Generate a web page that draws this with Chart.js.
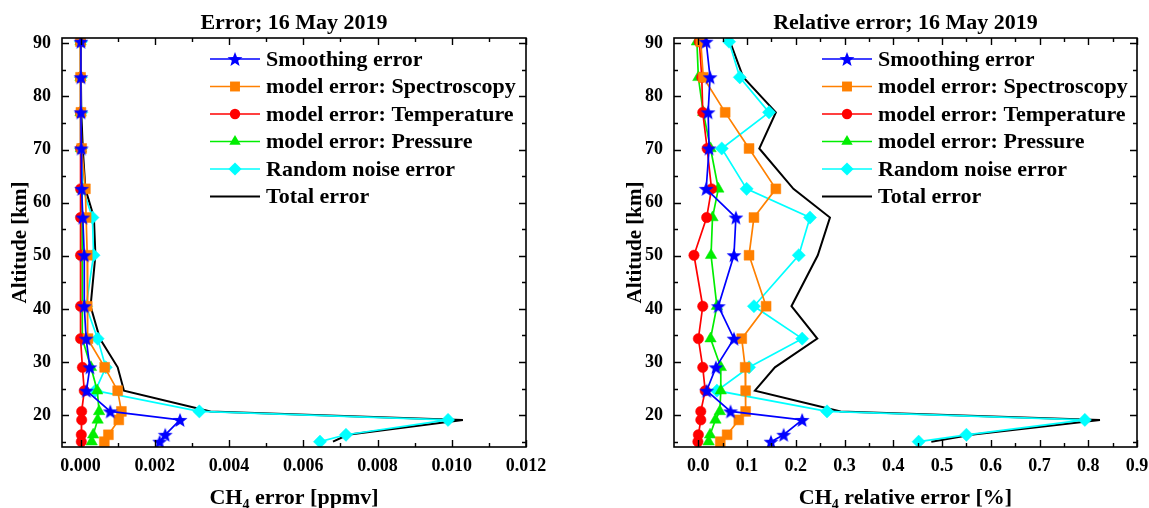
<!DOCTYPE html>
<html>
<head>
<meta charset="utf-8">
<title>CH4 error profiles</title>
<script src="https://cdn.jsdelivr.net/npm/chart.js@4.4.0/dist/chart.umd.min.js"></script>
<style>
  body { margin: 0; background: #fff; }
  #wrap { position: relative; width: 1149px; height: 508px; overflow: hidden; }
  canvas { position: absolute; top: 0; }
  #errChart { left: 0; }
  #relChart { left: 575px; }
</style>
</head>
<body>
<div id="wrap">
  <canvas id="errChart" width="575" height="508"></canvas>
  <canvas id="relChart" width="574" height="508"></canvas>
</div>
<script>
// retrieval levels, km
const altitude = [90.3, 83.6, 77.0, 70.2, 62.6, 57.2, 50.1, 40.5, 34.4, 29.0, 24.6, 20.7, 19.1, 16.3, 15.0];

// absolute errors, ppmv
const smoothingErr = [0.00001, 0.00001, 0.00001, 0.00002, 0.00003, 0.00006, 0.0001, 0.0001, 0.00015, 0.00025, 0.00016, 0.0008, 0.00268, 0.00228, 0.00213];
const spectroErr   = [0.0, 0.0, 0.00001, 0.00003, 0.00013, 0.00015, 0.00018, 0.00018, 0.0002, 0.00065, 0.001, 0.0011, 0.00103, 0.00075, 0.00064];
const tempErr      = [0.0, 0.0, 0.0, 0.0, 0.0, 0.0, 0.0, 0.0, 0.0, 0.00005, 0.0001, 0.00003, 0.00003, 0.00002, 0.00002];
const pressureErr  = [0.0, 0.0, 0.0, 0.00001, 0.00003, 0.00004, 0.00004, 0.00005, 0.00005, 0.00028, 0.00045, 0.0005, 0.00046, 0.00034, 0.0003];
const noiseErr     = [0.00001, 0.00001, 0.00002, 0.00001, 0.00006, 0.00032, 0.00035, 0.00015, 0.00046, 0.00068, 0.0004, 0.0032, 0.0099, 0.00715, 0.00645];
const totalErr     = [0.00001, 0.00001, 0.00002, 0.00006, 0.00013, 0.00036, 0.0004, 0.00027, 0.00052, 0.001, 0.00117, 0.0035, 0.0103, 0.0072, 0.0068];

// relative errors, %
const smoothingRel = [0.016, 0.024, 0.020, 0.022, 0.016, 0.077, 0.073, 0.041, 0.073, 0.036, 0.017, 0.066, 0.213, 0.175, 0.149];
const spectroRel   = [0.005, 0.010, 0.055, 0.104, 0.159, 0.114, 0.104, 0.139, 0.089, 0.096, 0.097, 0.097, 0.083, 0.059, 0.045];
const tempRel      = [0.002, 0.007, 0.009, 0.018, 0.027, 0.017, -0.009, 0.009, 0.000, 0.009, 0.014, 0.005, 0.005, 0.000, -0.001];
const pressureRel  = [-0.003, 0.000, 0.010, 0.025, 0.041, 0.029, 0.026, 0.038, 0.025, 0.046, 0.046, 0.044, 0.035, 0.024, 0.021];
const noiseRel     = [0.063, 0.085, 0.145, 0.048, 0.099, 0.229, 0.206, 0.114, 0.213, 0.104, 0.038, 0.264, 0.793, 0.550, 0.452];
const totalRel     = [0.065, 0.092, 0.159, 0.125, 0.195, 0.270, 0.245, 0.191, 0.244, 0.157, 0.116, 0.292, 0.824, 0.560, 0.478];

const seriesNames = ['Smoothing error', 'model error: Spectroscopy', 'model error: Temperature',
                     'model error: Pressure', 'Random noise error', 'Total error'];

// axis ticks
const altTicks = [20, 30, 40, 50, 60, 70, 80, 90];
const altMinor = [15, 25, 35, 45, 55, 65, 75, 85];
const errTicks = [0, 0.002, 0.004, 0.006, 0.008, 0.010, 0.012];
const errMinor = [0.001, 0.003, 0.005, 0.007, 0.009, 0.011];
const relTicks = [0.0, 0.1, 0.2, 0.3, 0.4, 0.5, 0.6, 0.7, 0.8, 0.9];
const relMinor = [0.05, 0.15, 0.25, 0.35, 0.45, 0.55, 0.65, 0.75, 0.85];

const FONT = "'Liberation Serif', 'Times New Roman', serif";

// filled five-point star, used as a point image
function makeStar(color, outer, inner) {
  const c = document.createElement('canvas');
  const s = Math.ceil(outer * 2 + 2);
  c.width = s; c.height = s;
  const g = c.getContext('2d');
  g.translate(s / 2, s / 2 + 0.7);
  g.beginPath();
  for (let i = 0; i < 10; i++) {
    const r = i % 2 ? inner : outer;
    const a = -Math.PI / 2 + i * Math.PI / 5;
    g.lineTo(r * Math.cos(a), r * Math.sin(a));
  }
  g.closePath();
  g.fillStyle = color;
  g.fill();
  return c;
}

const starImg = makeStar('#0000ff', 7.8, 3.3);

const styles = [
  { color: '#0000ff', point: starImg, radius: 6, width: 1.7 },
  { color: '#ff8000', point: 'rect', radius: 7, width: 1.7 },
  { color: '#ff0000', point: 'circle', radius: 5.2, width: 1.7 },
  { color: '#00ee00', point: 'triangle', radius: 6.6, width: 1.7 },
  { color: '#00ffff', point: 'rectRot', radius: 6.6, width: 1.7 },
  { color: '#000000', point: 'circle', radius: 0, width: 2 }
];

function drawMarker(ctx, st, x, y) {
  ctx.save();
  ctx.fillStyle = st.color;
  const r = st.radius;
  if (st.point === starImg) {
    ctx.drawImage(starImg, x - starImg.width / 2, y - starImg.height / 2);
  } else if (st.point === 'rect') {
    const h = r * Math.SQRT1_2;
    ctx.fillRect(x - h, y - h, 2 * h, 2 * h);
  } else if (st.point === 'circle' && r > 0) {
    ctx.beginPath(); ctx.arc(x, y, r, 0, Math.PI * 2); ctx.fill();
  } else if (st.point === 'triangle') {
    ctx.beginPath();
    ctx.moveTo(x, y - r);
    ctx.lineTo(x + r * Math.sin(Math.PI / 3), y + r / 2);
    ctx.lineTo(x - r * Math.sin(Math.PI / 3), y + r / 2);
    ctx.closePath(); ctx.fill();
  } else if (st.point === 'rectRot') {
    ctx.beginPath();
    ctx.moveTo(x, y - r); ctx.lineTo(x + r, y); ctx.lineTo(x, y + r); ctx.lineTo(x - r, y);
    ctx.closePath(); ctx.fill();
  }
  ctx.restore();
}

// box, inward ticks on all sides, titles and legend
function decorPlugin(cfg) {
  return {
    id: 'decor',
    afterDraw(chart) {
      const ctx = chart.ctx;
      const a = chart.chartArea;
      const xs = chart.scales.x, ys = chart.scales.y;
      ctx.save();
      ctx.strokeStyle = '#000';
      ctx.lineWidth = 1.6;
      ctx.strokeRect(a.left, a.top, a.right - a.left, a.bottom - a.top);

      ctx.lineWidth = 1.4;
      const tickX = (vals, len) => vals.forEach(v => {
        const px = Math.round(xs.getPixelForValue(v)) + 0.5;
        ctx.beginPath();
        ctx.moveTo(px, a.bottom); ctx.lineTo(px, a.bottom - len);
        ctx.moveTo(px, a.top); ctx.lineTo(px, a.top + len);
        ctx.stroke();
      });
      const tickY = (vals, len) => vals.forEach(v => {
        const py = Math.round(ys.getPixelForValue(v)) + 0.5;
        ctx.beginPath();
        ctx.moveTo(a.left, py); ctx.lineTo(a.left + len, py);
        ctx.moveTo(a.right, py); ctx.lineTo(a.right - len, py);
        ctx.stroke();
      });
      tickX(cfg.xTicks, 7); tickX(cfg.xMinor, 4);
      tickY(altTicks, 7); tickY(altMinor, 4);

      ctx.fillStyle = '#000';
      const cx = (a.left + a.right) / 2;

      // panel title
      ctx.font = 'bold 22px ' + FONT;
      ctx.textAlign = 'center';
      ctx.textBaseline = 'alphabetic';
      ctx.fillText(cfg.title, cx, 29);

      // x title with subscript 4
      const pre = 'CH', post = cfg.xTitle;
      ctx.font = 'bold 22px ' + FONT;
      const w1 = ctx.measureText(pre).width;
      const w3 = ctx.measureText(post).width;
      ctx.font = 'bold 14px ' + FONT;
      const w2 = ctx.measureText('4').width;
      const x0 = cx - (w1 + w2 + w3) / 2;
      ctx.textAlign = 'left';
      ctx.font = 'bold 22px ' + FONT;
      ctx.fillText(pre, x0, 504);
      ctx.font = 'bold 14px ' + FONT;
      ctx.fillText('4', x0 + w1, 509);
      ctx.font = 'bold 22px ' + FONT;
      ctx.fillText(post, x0 + w1 + w2, 504);

      // y title
      ctx.save();
      ctx.translate(cfg.yTitleX, (a.top + a.bottom) / 2);
      ctx.rotate(-Math.PI / 2);
      ctx.textAlign = 'center';
      ctx.textBaseline = 'middle';
      ctx.font = 'bold 21px ' + FONT;
      ctx.fillText('Altitude [km]', 0, 0);
      ctx.restore();

      // legend: line sample with marker, then label
      const lx = a.left + 148;
      const rows = [59, 86.5, 114, 141.5, 169, 196.5];
      ctx.font = 'bold 22px ' + FONT;
      ctx.textAlign = 'left';
      ctx.textBaseline = 'middle';
      styles.forEach((st, i) => {
        const y = rows[i];
        ctx.strokeStyle = st.color;
        ctx.lineWidth = st.width;
        ctx.beginPath(); ctx.moveTo(lx, y); ctx.lineTo(lx + 50, y); ctx.stroke();
        drawMarker(ctx, st, lx + 25, y);
        ctx.fillStyle = '#000';
        ctx.fillText(seriesNames[i], lx + 56, y + 1);
      });
      ctx.restore();
    }
  };
}

function makeChart(id, series, cfg) {
  const tickFont = { family: FONT, size: 18, weight: 'bold' };
  return new Chart(document.getElementById(id), {
    type: 'scatter',
    data: {
      datasets: series.map((vals, i) => ({
        label: seriesNames[i],
        data: vals.map((v, k) => ({ x: v, y: altitude[k] })),
        showLine: true,
        borderColor: styles[i].color,
        backgroundColor: styles[i].color,
        borderWidth: styles[i].width,
        pointStyle: styles[i].point,
        pointRadius: styles[i].radius,
        pointHoverRadius: styles[i].radius,
        pointBorderWidth: 0.5,
        tension: 0
      }))
    },
    options: {
      responsive: false,
      animation: false,
      events: [],
      layout: { padding: cfg.padding },
      plugins: { legend: { display: false }, tooltip: { enabled: false }, title: { display: false } },
      scales: {
        x: {
          type: 'linear', min: cfg.xMin, max: cfg.xMax,
          grid: { display: false, drawTicks: false },
          border: { display: false },
          afterBuildTicks: s => { s.ticks = cfg.xTicks.map(v => ({ value: v })); },
          afterFit: s => { s.height = 40; s.paddingLeft = 0; s.paddingRight = 0; },
          ticks: { font: tickFont, color: '#000', padding: 9, maxRotation: 0, autoSkip: false,
                   callback: v => v.toFixed(cfg.digits) }
        },
        y: {
          type: 'linear', min: 14, max: 91,
          grid: { display: false, drawTicks: false },
          border: { display: false },
          afterBuildTicks: s => { s.ticks = altTicks.map(v => ({ value: v })); },
          afterFit: s => { s.width = cfg.yWidth; s.paddingTop = 0; s.paddingBottom = 0; },
          ticks: { font: tickFont, color: '#000', padding: 11, autoSkip: false,
                   callback: v => String(v) }
        }
      }
    },
    plugins: [decorPlugin(cfg)]
  });
}

makeChart('errChart',
  [smoothingErr, spectroErr, tempErr, pressureErr, noiseErr, totalErr],
  { title: 'Error; 16 May 2019', xTitle: ' error [ppmv]', xMin: -0.0005, xMax: 0.012,
    xTicks: errTicks, xMinor: errMinor, digits: 3, yWidth: 62, yTitleX: 21,
    padding: { left: 0, right: 49, top: 38, bottom: 21 } });

makeChart('relChart',
  [smoothingRel, spectroRel, tempRel, pressureRel, noiseRel, totalRel],
  { title: 'Relative error; 16 May 2019', xTitle: ' relative error [%]', xMin: -0.05, xMax: 0.9,
    xTicks: relTicks, xMinor: relMinor, digits: 1, yWidth: 99, yTitleX: 61,
    padding: { left: 0, right: 12, top: 38, bottom: 21 } });
</script>
</body>
</html>
